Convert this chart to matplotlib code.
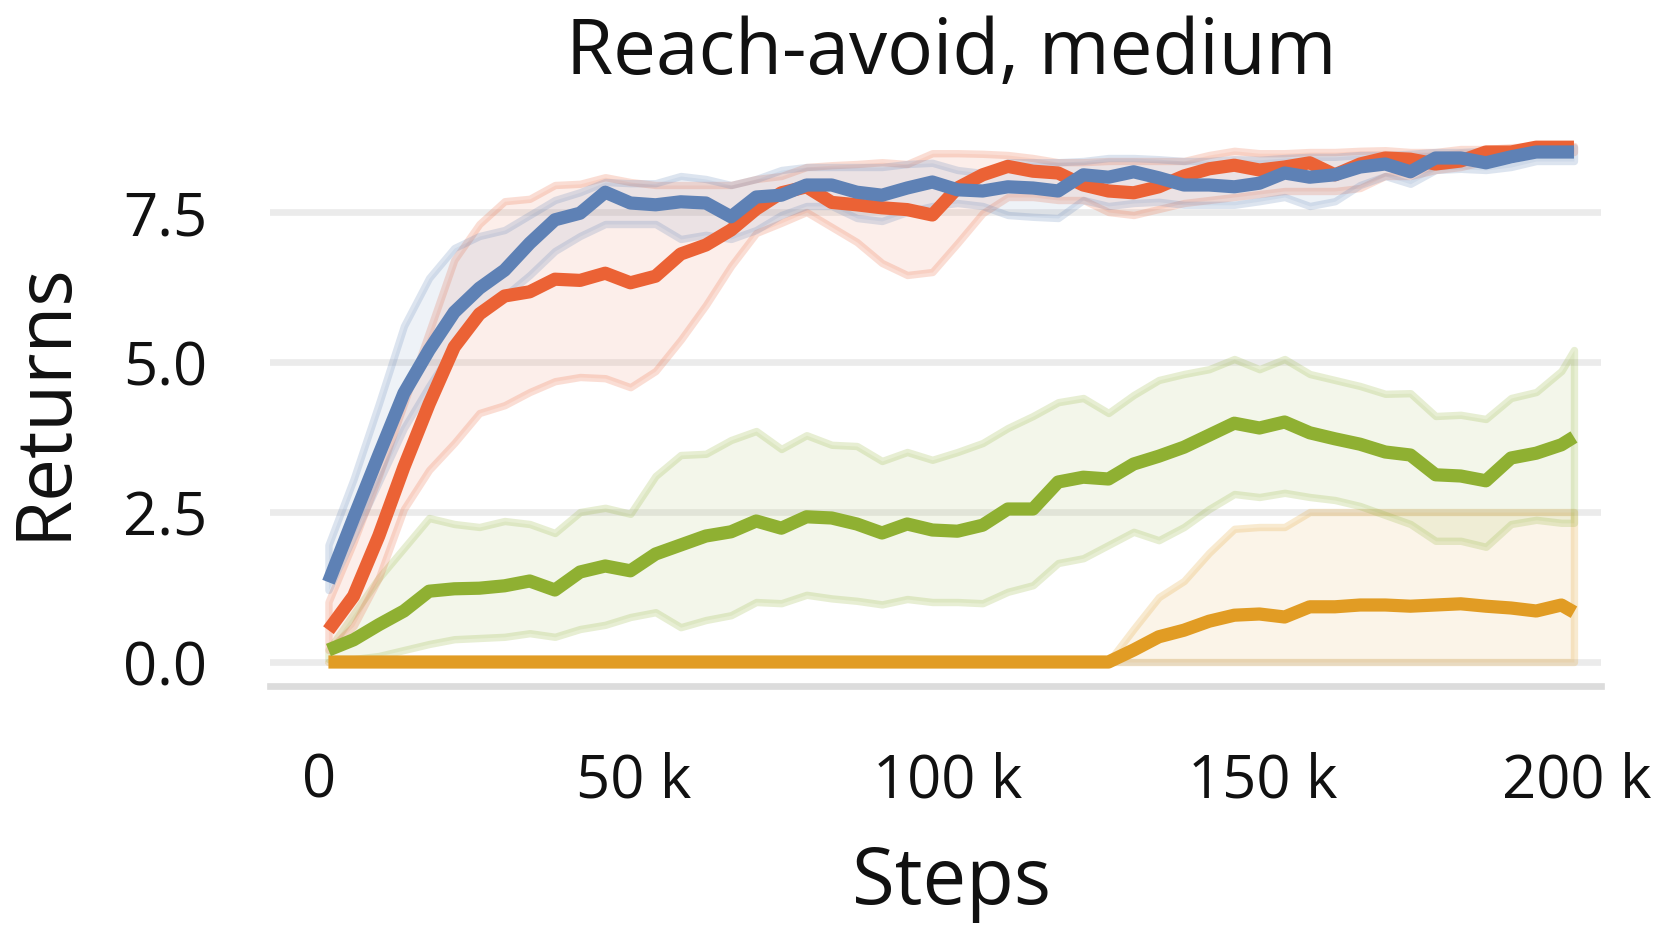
import matplotlib
matplotlib.use("Agg")
import matplotlib.pyplot as plt
from matplotlib.ticker import FixedLocator, FixedFormatter
from matplotlib.colors import to_rgba

# ---------------- data ----------------
steps_k = [1.5 + 4 * i for i in range(50)] + [199.5]   # training steps (thousands)

blue_mean = [1.33, 2.4, 3.45, 4.48, 5.2, 5.83, 6.23, 6.53, 6.98, 7.37, 7.48, 7.83, 7.65,
             7.62, 7.67, 7.65, 7.42, 7.75, 7.78, 7.95, 7.95, 7.83, 7.78, 7.9, 8.0,
             7.87, 7.85, 7.92, 7.9, 7.85, 8.12, 8.08, 8.17, 8.07, 7.95, 7.95, 7.92, 7.98,
             8.15, 8.08, 8.12, 8.25, 8.3, 8.17, 8.4, 8.4, 8.32, 8.42, 8.5, 8.5, 8.5]
blue_lo = [1.2, 2.1, 3.0, 3.9, 4.6, 5.25, 5.75, 6.1, 6.45, 6.85, 7.1, 7.3, 7.3,
           7.3, 7.05, 7.12, 7.05, 7.2, 7.45, 7.6, 7.6, 7.4, 7.35, 7.5, 7.6,
           7.65, 7.6, 7.45, 7.42, 7.4, 7.7, 7.6, 7.65, 7.67, 7.62, 7.62, 7.62, 7.68,
           7.75, 7.6, 7.68, 7.95, 8.1, 7.97, 8.2, 8.22, 8.2, 8.25, 8.35, 8.35, 8.35]
blue_hi = [1.95, 3.05, 4.3, 5.6, 6.4, 6.9, 7.1, 7.2, 7.45, 7.7, 7.83, 8.0, 7.98,
           7.98, 8.1, 8.05, 7.95, 8.05, 8.2, 8.25, 8.25, 8.25, 8.25, 8.3, 8.32,
           8.2, 8.15, 8.33, 8.33, 8.33, 8.35, 8.4, 8.4, 8.38, 8.35, 8.35, 8.38, 8.37,
           8.4, 8.42, 8.42, 8.45, 8.45, 8.47, 8.5, 8.5, 8.52, 8.55, 8.57, 8.58, 8.58]

red_mean = [0.53, 1.1, 2.1, 3.25, 4.3, 5.25, 5.8, 6.1, 6.17, 6.38, 6.36, 6.48, 6.32,
            6.43, 6.8, 6.95, 7.2, 7.55, 7.82, 7.92, 7.66, 7.62, 7.57, 7.54, 7.45,
            7.9, 8.12, 8.26, 8.18, 8.15, 7.95, 7.85, 7.82, 7.92, 8.1, 8.22, 8.28, 8.2,
            8.25, 8.32, 8.12, 8.3, 8.4, 8.38, 8.3, 8.35, 8.5, 8.5, 8.58, 8.58, 8.58]
red_lo = [0.2, 0.6, 1.4, 2.55, 3.2, 3.65, 4.15, 4.28, 4.5, 4.68, 4.75, 4.73, 4.58,
          4.85, 5.37, 5.95, 6.6, 7.15, 7.32, 7.5, 7.25, 7.0, 6.65, 6.45, 6.5,
          6.98, 7.48, 7.75, 7.75, 7.7, 7.7, 7.5, 7.45, 7.55, 7.65, 7.7, 7.75, 7.8,
          7.85, 7.85, 7.85, 7.9, 8.1, 8.1, 8.2, 8.25, 8.35, 8.45, 8.5, 8.5, 8.5]
red_hi = [1.0, 2.0, 3.1, 4.3, 5.5, 6.7, 7.3, 7.68, 7.72, 7.95, 7.97, 8.08, 8.0,
          7.95, 7.95, 7.95, 7.95, 8.05, 8.1, 8.25, 8.28, 8.3, 8.33, 8.3, 8.48,
          8.48, 8.47, 8.45, 8.4, 8.33, 8.33, 8.35, 8.35, 8.35, 8.35, 8.45, 8.52, 8.48,
          8.48, 8.5, 8.5, 8.52, 8.53, 8.5, 8.5, 8.55, 8.55, 8.58, 8.6, 8.6, 8.6]

green_mean = [0.2, 0.37, 0.62, 0.85, 1.18, 1.22, 1.23, 1.27, 1.35, 1.2, 1.5, 1.6, 1.52,
              1.8, 1.95, 2.1, 2.17, 2.35, 2.23, 2.42, 2.4, 2.3, 2.15, 2.3, 2.2,
              2.18, 2.28, 2.55, 2.55, 3.0, 3.08, 3.05, 3.3, 3.43, 3.58, 3.78, 3.98, 3.9,
              4.0, 3.82, 3.72, 3.63, 3.5, 3.45, 3.12, 3.1, 3.02, 3.4, 3.48, 3.62, 3.75]
green_lo = [0.05, 0.05, 0.1, 0.2, 0.3, 0.38, 0.4, 0.42, 0.48, 0.42, 0.55, 0.62, 0.75,
            0.83, 0.58, 0.7, 0.78, 1.0, 0.98, 1.12, 1.06, 1.02, 0.96, 1.05, 1.0,
            1.0, 0.98, 1.17, 1.28, 1.65, 1.73, 1.95, 2.17, 2.03, 2.25, 2.55, 2.8, 2.75,
            2.82, 2.75, 2.7, 2.6, 2.45, 2.3, 2.02, 2.02, 1.92, 2.3, 2.37, 2.32, 2.32]
green_hi = [0.2, 0.8, 1.4, 1.9, 2.4, 2.3, 2.25, 2.35, 2.3, 2.15, 2.5, 2.57, 2.47,
            3.1, 3.45, 3.47, 3.7, 3.85, 3.55, 3.78, 3.62, 3.6, 3.35, 3.5, 3.37,
            3.5, 3.65, 3.9, 4.1, 4.33, 4.4, 4.15, 4.45, 4.7, 4.8, 4.88, 5.05, 4.88,
            5.05, 4.8, 4.7, 4.6, 4.47, 4.48, 4.1, 4.12, 4.05, 4.4, 4.5, 4.85, 5.2]

orange_mean = [0, 0, 0, 0, 0, 0, 0, 0, 0, 0, 0, 0, 0,
               0, 0, 0, 0, 0, 0, 0, 0, 0, 0, 0, 0,
               0, 0, 0, 0, 0, 0, 0, 0.2, 0.42, 0.53, 0.68, 0.78, 0.8,
               0.75, 0.92, 0.92, 0.95, 0.95, 0.93, 0.95, 0.97, 0.93, 0.9, 0.85, 0.95, 0.83]
orange_lo = [0, 0, 0, 0, 0, 0, 0, 0, 0, 0, 0, 0, 0,
             0, 0, 0, 0, 0, 0, 0, 0, 0, 0, 0, 0,
             0, 0, 0, 0, 0, 0, 0, 0, 0, 0, 0, 0, 0,
             0, 0, 0, 0, 0, 0, 0, 0, 0, 0, 0, 0, 0]
orange_hi = [0, 0, 0, 0, 0, 0, 0, 0, 0, 0, 0, 0, 0,
             0, 0, 0, 0, 0, 0, 0, 0, 0, 0, 0, 0,
             0, 0, 0, 0, 0, 0, 0, 0.55, 1.08, 1.35, 1.82, 2.22, 2.25,
             2.25, 2.5, 2.5, 2.5, 2.5, 2.5, 2.5, 2.5, 2.5, 2.5, 2.5, 2.5, 2.5]

x_ticks = [0, 50000, 100000, 150000, 200000]
x_tick_labels = ["0", "50 k", "100 k", "150 k", "200 k"]
y_ticks = [0.0, 2.5, 5.0, 7.5]
y_tick_labels = ["0.0", "2.5", "5.0", "7.5"]

title = "Reach-avoid, medium"
xlabel = "Steps"
ylabel = "Returns"

# ---------------- styling ----------------
FONT = "Open Sans"
plt.rcParams["font.family"] = [FONT, "DejaVu Sans"]

C_BLUE = "#5E81B5"
C_RED = "#EB6235"
C_GREEN = "#8FB032"
C_ORANGE = "#E19C24"

W, H = 1663, 932
fig = plt.figure(figsize=(W / 100, H / 100), dpi=100)
ax = fig.add_axes([270 / W, 1 - 686 / H, (1601 - 270) / W, (686 - 122) / H])

steps = [s * 1000 for s in steps_k]

series = [
    (orange_mean, orange_lo, orange_hi, C_ORANGE),
    (green_mean, green_lo, green_hi, C_GREEN),
    (red_mean, red_lo, red_hi, C_RED),
    (blue_mean, blue_lo, blue_hi, C_BLUE),
]

for mean, lo, hi, c in series:
    ax.fill_between(steps, lo, hi, facecolor=to_rgba(c, 0.10),
                    edgecolor=to_rgba(c, 0.21), linewidth=5.3,
                    joinstyle="round", zorder=2)

for mean, lo, hi, c in series:
    ax.plot(steps, mean, color=c, lw=9.5, solid_capstyle="butt",
            solid_joinstyle="round", zorder=3)

ax.set_xlim(-7790, 203800)
ax.set_ylim(-0.4, 9.0)

ax.xaxis.set_major_locator(FixedLocator(x_ticks))
ax.xaxis.set_major_formatter(FixedFormatter(x_tick_labels))
ax.yaxis.set_major_locator(FixedLocator(y_ticks))
ax.yaxis.set_major_formatter(FixedFormatter(y_tick_labels))

ax.grid(axis="y", color="#ebebeb", lw=4.8, zorder=0)
ax.grid(axis="x", visible=False)
ax.set_axisbelow(True)

for side in ["top", "right", "left"]:
    ax.spines[side].set_visible(False)
ax.spines["bottom"].set_color("#dcdcdc")
ax.spines["bottom"].set_linewidth(4.8)
ax.spines["bottom"].set_zorder(0)

ax.tick_params(axis="both", length=0, labelsize=43, colors="#111111")
ax.tick_params(axis="y", pad=45)
ax.tick_params(axis="x", pad=47.5)
ax.set_facecolor("white")

fig.text(951 / W, 1 - 74 / H, title, ha="center", va="baseline",
         fontsize=55, color="#111111")
fig.text(951 / W, 1 - 904 / H, xlabel, ha="center", va="baseline",
         fontsize=56, color="#111111")
fig.text(44 / W, 1 - 401 / H, ylabel, ha="center", va="center",
         rotation=90, fontsize=55, color="#111111")

fig.savefig("out.png", dpi=100, facecolor="white")
